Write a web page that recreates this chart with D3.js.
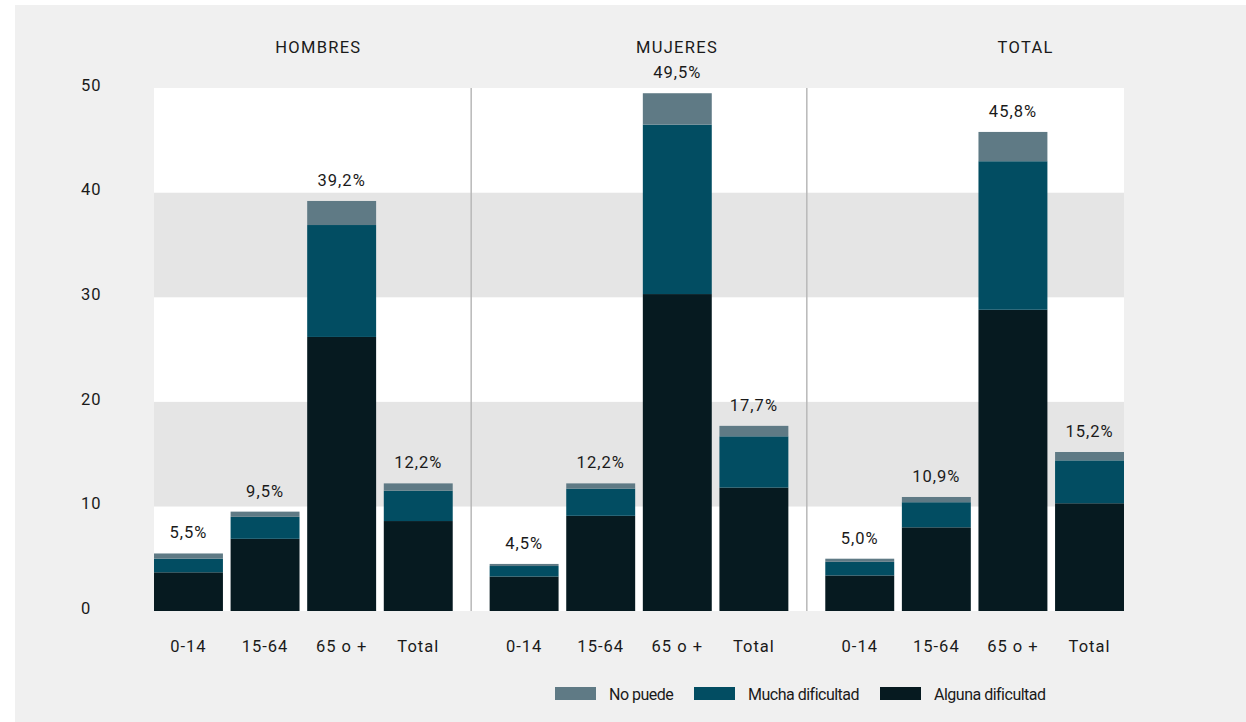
<!DOCTYPE html>
<html>
<head>
<meta charset="utf-8">
<script src="https://cdn.jsdelivr.net/npm/d3@7"></script>
<style>
  html, body { margin: 0; padding: 0; background: #ffffff; }
  svg { display: block; }
  text { font-family: Roboto, "Noto Sans", sans-serif; fill: #1a1a1a; font-size: 16.5px; letter-spacing: 1px; }
  .legend text { font-size: 16px; letter-spacing: -0.5px; }
  .title text { letter-spacing: 1.3px; }
</style>
</head>
<body>
<svg id="chart" width="1246" height="722"></svg>
<script>
// ---- Data ----
const groups = ["HOMBRES", "MUJERES", "TOTAL"];
const ageCategories = ["0-14", "15-64", "65 o +", "Total"];
const seriesNames = ["Alguna dificultad", "Mucha dificultad", "No puede"];
// values per group, in ageCategories order
const alguna = {
  HOMBRES: [3.7, 6.9, 26.2, 8.6],
  MUJERES: [3.3, 9.1, 30.3, 11.8],
  TOTAL:   [3.4, 8.0, 28.8, 10.3]
};
const mucha = {
  HOMBRES: [1.3, 2.1, 10.7, 2.9],
  MUJERES: [1.0, 2.6, 16.2, 4.9],
  TOTAL:   [1.3, 2.4, 14.2, 4.1]
};
const noPuede = {
  HOMBRES: [0.5, 0.5, 2.3, 0.7],
  MUJERES: [0.2, 0.5, 3.0, 1.0],
  TOTAL:   [0.3, 0.5, 2.8, 0.8]
};
const totalLabels = {
  HOMBRES: ["5,5%", "9,5%", "39,2%", "12,2%"],
  MUJERES: ["4,5%", "12,2%", "49,5%", "17,7%"],
  TOTAL:   ["5,0%", "10,9%", "45,8%", "15,2%"]
};
const yTicks = [0, 10, 20, 30, 40, 50];

// ---- Layout ----
const colors = {
  "Alguna dificultad": "#061a20",
  "Mucha dificultad": "#024d62",
  "No puede": "#5f7a85"
};
const plotLeft = 154, plotRight = 1124, plotTop = 88, plotBottom = 611;

const svg = d3.select("#chart");
svg.append("rect").attr("x", 15).attr("y", 5).attr("width", 1246 - 15).attr("height", 722 - 5).attr("fill", "#f0f0f0");

const y = d3.scaleLinear().domain([0, 50]).range([plotBottom, plotTop]);
const xGroup = d3.scaleBand().domain(groups).range([plotLeft, plotRight]).paddingInner(0.11).paddingOuter(0);
const xAge = d3.scaleBand().domain(ageCategories).range([0, xGroup.bandwidth()]).paddingInner(0.1).paddingOuter(0);

// alternating background bands
const bands = d3.pairs(yTicks);
svg.append("g").selectAll("rect").data(bands).join("rect")
  .attr("x", plotLeft).attr("width", plotRight - plotLeft)
  .attr("y", d => y(d[1])).attr("height", d => y(d[0]) - y(d[1]))
  .attr("fill", (d, i) => i % 2 === 0 ? "#ffffff" : "#e5e5e5");

// dividers
const half = xGroup.step() * xGroup.paddingInner() / 2;
svg.append("g").selectAll("line").data(groups.slice(1)).join("line")
  .attr("x1", d => xGroup(d) - half).attr("x2", d => xGroup(d) - half)
  .attr("y1", plotTop).attr("y2", plotBottom)
  .attr("stroke", "#b8b8b8").attr("stroke-width", 1.5);

// y axis labels
svg.append("g").selectAll("text").data(yTicks).join("text")
  .attr("x", 81).attr("y", d => y(d) - 3).attr("dy", "0.35em")
  .text(d => d);

// stacked data
const rows = [];
groups.forEach(g => ageCategories.forEach((a, i) => {
  rows.push({ group: g, age: a, "Alguna dificultad": alguna[g][i], "Mucha dificultad": mucha[g][i], "No puede": noPuede[g][i], label: totalLabels[g][i] });
}));
const stacked = d3.stack().keys(seriesNames)(rows);

svg.append("g").selectAll("g").data(stacked).join("g")
  .attr("fill", d => colors[d.key])
  .selectAll("rect").data(d => d).join("rect")
  .attr("x", d => xGroup(d.data.group) + xAge(d.data.age))
  .attr("width", xAge.bandwidth())
  .attr("y", d => y(d[1]))
  .attr("height", d => y(d[0]) - y(d[1]));

// value labels
const topLayer = stacked[stacked.length - 1];
svg.append("g").selectAll("text").data(topLayer).join("text")
  .attr("x", d => xGroup(d.data.group) + xAge(d.data.age) + xAge.bandwidth() / 2)
  .attr("y", d => y(d[1]) - 15)
  .attr("text-anchor", "middle")
  .text(d => d.data.label);

// x labels
svg.append("g").selectAll("text").data(rows).join("text")
  .attr("x", d => xGroup(d.group) + xAge(d.age) + xAge.bandwidth() / 2)
  .attr("y", 646).attr("dy", "0.35em")
  .attr("text-anchor", "middle")
  .text(d => d.age);

// group titles
const titleOffsets = [15, 38, 51];
svg.append("g").attr("class", "title").selectAll("text").data(groups).join("text")
  .attr("x", (d, i) => xGroup(d) + xGroup.bandwidth() / 2 + titleOffsets[i])
  .attr("y", 47).attr("dy", "0.35em")
  .attr("text-anchor", "middle")
  .text(d => d);

// legend
const legendItems = ["No puede", "Mucha dificultad", "Alguna dificultad"];
const legendX = [555, 694, 880];
const lg = svg.append("g").attr("class", "legend").selectAll("g").data(legendItems).join("g")
  .attr("transform", (d, i) => `translate(${legendX[i]},687)`);
lg.append("rect").attr("width", 41).attr("height", 13).attr("fill", d => colors[d]);
lg.append("text").attr("x", 54).attr("y", 7).attr("dy", "0.35em").text(d => d);
</script>
</body>
</html>
